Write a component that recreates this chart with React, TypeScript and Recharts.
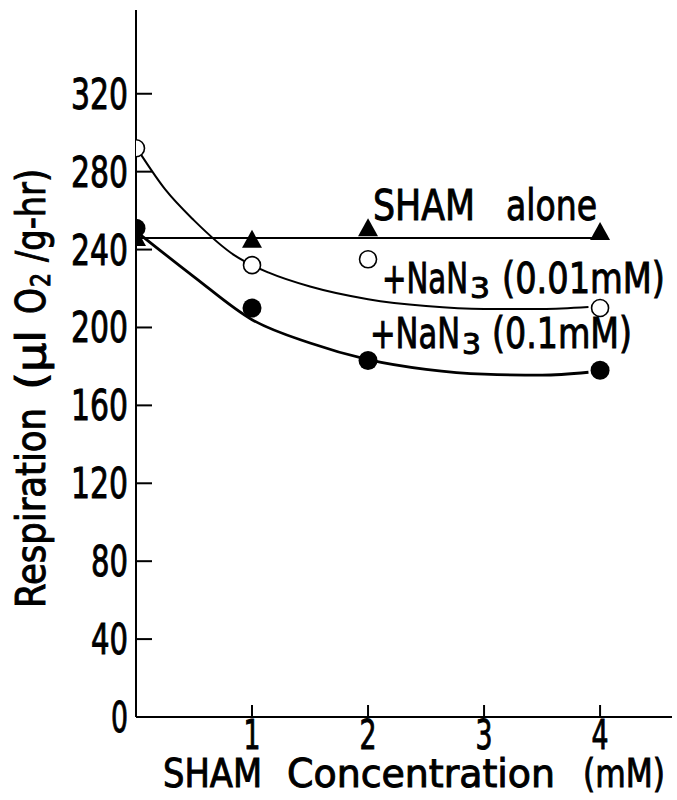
import React from "react";
import {
  ComposedChart,
  Line,
  Scatter,
  XAxis,
  YAxis,
  Customized,
} from "recharts";

// measured points
const shamAloneX = [0, 1, 2, 4];
const shamAloneY = [246, 245, 251, 249];
const lowAzideX = [0, 1, 2, 4];
const lowAzideY = [292, 232, 235, 210];
const highAzideX = [0, 1, 2, 4];
const highAzideY = [251, 210, 183, 178];

// hand-drawn fit curves
const shamFitX = [0, 4];
const shamFitY = [246, 246];
const lowFitX = [0.04, 0.25, 0.5, 0.85, 1.15, 1.5, 2, 2.5, 3, 3.5, 3.9];
const lowFitY = [289, 271, 255, 237, 228, 221, 214.5, 211, 209.5, 209.5, 210.5];
const highFitX = [0.03, 0.5, 1, 1.5, 2, 2.5, 3, 3.5, 3.9];
const highFitY = [248, 226, 204, 192, 183.5, 178.5, 176, 175.5, 177];

const xTicks = [1, 2, 3, 4];
const yTicks = [0, 40, 80, 120, 160, 200, 240, 280, 320];

const zip = (xs: number[], ys: number[]) => xs.map((x, i) => ({ x, y: ys[i] }));

const FONT = "'DejaVu Sans Condensed', 'DejaVu Sans', sans-serif";
const TM = 8;
const DIGIT_W = 20;
// a thin outline to thicken the squeezed glyphs a little
const INK = { fill: "#000", stroke: "#000", strokeWidth: 0.9 };

const LeftTick = (props: any) => {
  const { x, y, payload } = props;
  const s = String(payload.value);
  return (
    <g>
      <line x1={x + TM} x2={x + TM + 16} y1={y} y2={y} stroke="#000" strokeWidth={2} />
      <text
        x={x}
        y={y}
        dy={15}
        textAnchor="end"
        fontFamily={FONT}
        fontSize={42}
        textLength={s.length * DIGIT_W - 3}
        lengthAdjust="spacingAndGlyphs"
        {...INK}
      >
        {s}
      </text>
    </g>
  );
};

const RightTick = (props: any) => {
  const { x, y, payload } = props;
  if (payload.value === 0) return null;
  return <line x1={x - TM} x2={x - TM - 15} y1={y} y2={y} stroke="#000" strokeWidth={2} />;
};

const BottomTick = (props: any) => {
  const { x, y, payload } = props;
  return (
    <g>
      <line x1={x} x2={x} y1={y - TM} y2={y - TM - 12} stroke="#000" strokeWidth={2} />
      <text
        x={x}
        y={y - TM + 32}
        textAnchor="middle"
        fontFamily={FONT}
        fontSize={40}
        textLength={17}
        lengthAdjust="spacingAndGlyphs"
        {...INK}
      >
        {payload.value}
      </text>
    </g>
  );
};

const Triangle = (props: any) => {
  const { cx, cy } = props;
  return <polygon points={`${cx - 10},${cy + 8} ${cx + 10},${cy + 8} ${cx},${cy - 10}`} fill="#000" />;
};
const OpenCircle = (props: any) => (
  <circle cx={props.cx} cy={props.cy} r={8.5} fill="#fff" stroke="#000" strokeWidth={1.6} />
);
const FilledCircle = (props: any) => (
  <circle cx={props.cx} cy={props.cy} r={9.5} fill="#000" />
);

// a word squeezed to the width it has in the figure
const Word = ({ x, y, w, size = 42, children }: any) => (
  <text x={x} y={y} fontSize={size} textLength={w} lengthAdjust="spacingAndGlyphs">
    {children}
  </text>
);

const Texts = () => (
  <g fontFamily={FONT} {...INK}>
    <Word x={373} y={220} w={102}>SHAM</Word>
    <Word x={506} y={220} w={91}>alone</Word>

    <Word x={382} y={293} w={86}>+NaN</Word>
    <Word x={470} y={298} w={20} size={29}>3</Word>
    <Word x={502} y={293} w={163}>(0.01mM)</Word>

    <Word x={370} y={348} w={90}>+NaN</Word>
    <Word x={462} y={354} w={19} size={29}>3</Word>
    <Word x={492} y={348} w={140}>(0.1mM)</Word>

    <Word x={163} y={787} w={99} size={39}>SHAM</Word>
    <Word x={287} y={787} w={268} size={39}>Concentration</Word>
    <Word x={583} y={787} w={82} size={39}>(mM)</Word>

    <g transform="translate(45,608) rotate(-90)">
      <Word x={0} y={0} w={200} size={40}>Respiration</Word>
      <Word x={218} y={0} w={60} size={40}>(μl</Word>
      <Word x={294} y={0} w={26} size={40}>O</Word>
      <Word x={321} y={5} w={14} size={26}>2</Word>
      <Word x={346} y={0} w={93} size={40}>/g-hr)</Word>
    </g>
  </g>
);

export default function App() {
  return (
    <div style={{ position: "absolute", left: 0, top: 0, background: "#fff" }}>
      <ComposedChart
        width={677}
        height={800}
        margin={{ top: 10, right: 5, bottom: 0, left: 0 }}
      >
        <XAxis
          dataKey="x"
          type="number"
          domain={[0, 4.62]}
          ticks={xTicks}
          allowDataOverflow
          height={83}
          tickSize={0}
          tickMargin={TM}
          tick={<BottomTick />}
          axisLine={{ stroke: "#000", strokeWidth: 2 }}
        />
        <XAxis
          xAxisId="top"
          orientation="top"
          type="number"
          domain={[0, 4.62]}
          height={0}
          tick={false}
          tickLine={false}
          axisLine={{ stroke: "#000", strokeWidth: 2 }}
        />
        <YAxis
          type="number"
          domain={[0, 363]}
          ticks={yTicks}
          allowDataOverflow
          width={136}
          tickSize={0}
          tickMargin={TM}
          tick={<LeftTick />}
          axisLine={{ stroke: "#000", strokeWidth: 2 }}
        />
        <YAxis
          yAxisId="right"
          orientation="right"
          type="number"
          domain={[0, 363]}
          ticks={yTicks}
          width={0}
          tickSize={0}
          tickMargin={TM}
          tick={<RightTick />}
          axisLine={{ stroke: "#000", strokeWidth: 2 }}
        />
        <Line
          data={zip(shamFitX, shamFitY)}
          dataKey="y"
          type="linear"
          stroke="#000"
          strokeWidth={2}
          dot={false}
          isAnimationActive={false}
        />
        <Line
          data={zip(lowFitX, lowFitY)}
          dataKey="y"
          type="monotone"
          stroke="#000"
          strokeWidth={2}
          dot={false}
          isAnimationActive={false}
        />
        <Line
          data={zip(highFitX, highFitY)}
          dataKey="y"
          type="monotone"
          stroke="#000"
          strokeWidth={2.8}
          dot={false}
          isAnimationActive={false}
        />
        <Scatter
          data={zip(shamAloneX, shamAloneY)}
          dataKey="y"
          shape={<Triangle />}
          isAnimationActive={false}
        />
        <Scatter
          data={zip(lowAzideX, lowAzideY)}
          dataKey="y"
          shape={<OpenCircle />}
          isAnimationActive={false}
        />
        <Scatter
          data={zip(highAzideX, highAzideY)}
          dataKey="y"
          shape={<FilledCircle />}
          isAnimationActive={false}
        />
        <Customized component={<Texts />} />
      </ComposedChart>
    </div>
  );
}
